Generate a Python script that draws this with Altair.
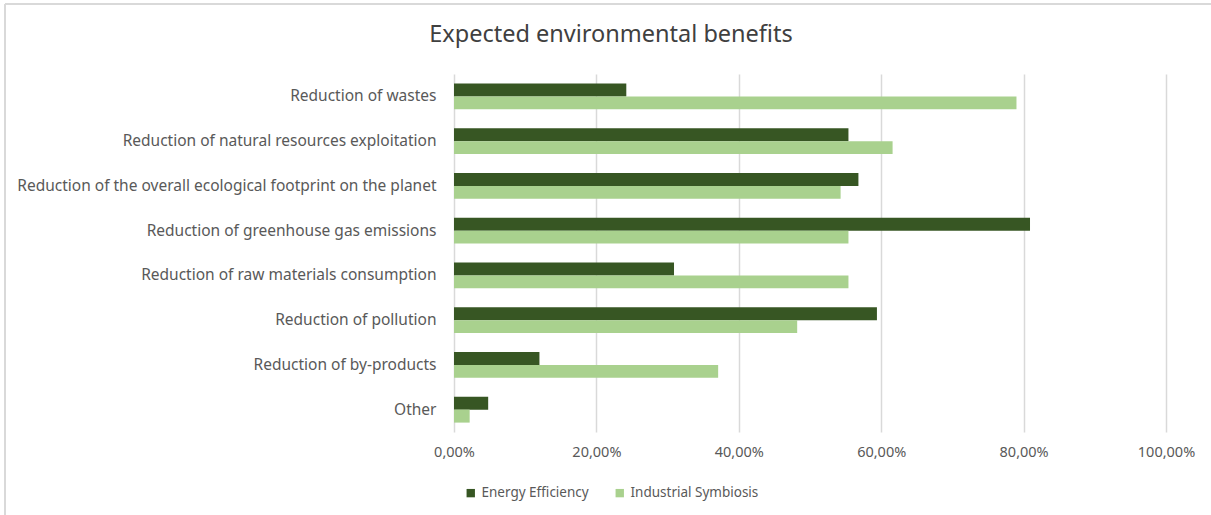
import altair as alt
import pandas as pd

title_text = "Expected environmental benefits"
categories = [
    "Reduction of wastes",
    "Reduction of natural resources exploitation",
    "Reduction of the overall ecological footprint on the planet",
    "Reduction of greenhouse gas emissions",
    "Reduction of raw materials consumption",
    "Reduction of  pollution",
    "Reduction of by-products",
    "Other",
]
series = ["Energy Efficiency", "Industrial Symbiosis"]
energy_efficiency = [0.242, 0.554, 0.568, 0.809, 0.309, 0.594, 0.120, 0.048]
industrial_symbiosis = [0.790, 0.616, 0.543, 0.554, 0.554, 0.482, 0.371, 0.022]
colors = ["#375623", "#A9D18E"]
tick_values = [0, 0.2, 0.4, 0.6, 0.8, 1.0]

rows = []
for c, a, b in zip(categories, energy_efficiency, industrial_symbiosis):
    rows.append({"category": c, "series": series[0], "value": a})
    rows.append({"category": c, "series": series[1], "value": b})
df = pd.DataFrame(rows)

W, H = 712, 358
FONT = "Noto Sans"
TXT = "#595959"

bars = alt.Chart(df).mark_bar().encode(
    x=alt.X(
        "value:Q",
        scale=alt.Scale(domain=[0, 1], nice=False),
        axis=alt.Axis(
            values=tick_values,
            labelExpr="replace(format(datum.value, '.2%'), '.', ',')",
            title=None,
            domain=False,
            ticks=False,
            grid=True,
            gridColor="#d9d9d9",
            gridWidth=1.5,
            labelFlush=False,
            labelPadding=13,
            labelFontSize=14.5,
            labelColor=TXT,
            labelFont=FONT,
        ),
    ),
    y=alt.Y(
        "category:N",
        sort=categories,
        scale=alt.Scale(paddingInner=0.42, paddingOuter=0.21),
        axis=alt.Axis(
            title=None,
            domain=False,
            ticks=False,
            labelPadding=18,
            labelFontSize=15.5,
            labelColor=TXT,
            labelFont=FONT,
            labelLimit=600,
        ),
    ),
    yOffset=alt.YOffset("series:N", sort=series),
    color=alt.Color(
        "series:N",
        sort=series,
        scale=alt.Scale(domain=series, range=colors),
        legend=alt.Legend(
            title=None,
            orient="none",
            direction="horizontal",
            legendX=10,
            legendY=412,
            symbolType="square",
            symbolSize=70,
            symbolStrokeWidth=0,
            labelFontSize=13.5,
            labelColor=TXT,
            labelFont=FONT,
            columnPadding=24,
        ),
    ),
)

one = pd.DataFrame({"t": [title_text]})
border = alt.Chart(one).mark_rule(color="#d9d9d9", strokeWidth=2).encode(
    x=alt.value(-449), y=alt.value(-70), y2=alt.value(H + 83)
)
border_top = alt.Chart(one).mark_rule(color="#d9d9d9", strokeWidth=2).encode(
    x=alt.value(-449), x2=alt.value(W + 45), y=alt.value(-70)
)
title = alt.Chart(one).mark_text(
    font=FONT, fontSize=23.5, color="#404040", align="center", baseline="alphabetic"
).encode(text="t:N", x=alt.value(157), y=alt.value(-32))

chart = (
    alt.layer(bars, border, border_top, title)
    .properties(
        width=W,
        height=H,
        autosize=alt.AutoSizeParams(type="none"),
        padding={"left": 454, "top": 74, "right": 45, "bottom": 83},
    )
    .configure(background="white")
    .configure_view(stroke=None)
)

chart.save("out.html", embed_options={"renderer": "svg", "actions": False})
